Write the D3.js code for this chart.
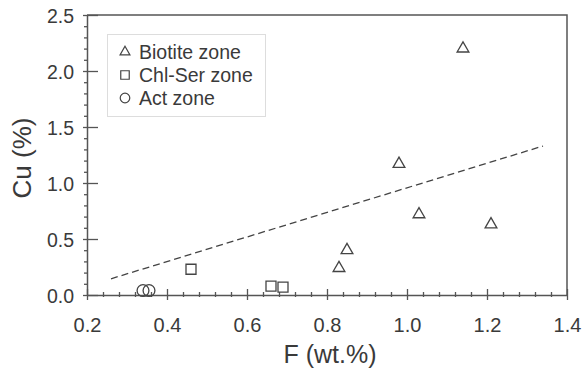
<!DOCTYPE html>
<html>
<head>
<meta charset="utf-8">
<script src="https://cdn.jsdelivr.net/npm/d3@7"></script>
<style>
  body { margin: 0; background: #fff; }
  text { font-family: "Liberation Sans", Arial, sans-serif; }
</style>
</head>
<body>
<svg id="chart"></svg>
<script>
// data
const biotiteF = [1.14, 0.98, 1.03, 1.21, 0.85, 0.83];
const biotiteCu = [2.20, 1.17, 0.72, 0.63, 0.40, 0.24];
const chlSerF = [0.46, 0.66, 0.69];
const chlSerCu = [0.23, 0.08, 0.07];
const actF = [0.34, 0.355];
const actCu = [0.04, 0.04];
const trendF = [0.26, 1.34];
const trendCu = [0.145, 1.33];

const xTicks = [0.2, 0.4, 0.6, 0.8, 1.0, 1.2, 1.4];
const yTicks = [0, 0.5, 1.0, 1.5, 2.0, 2.5];
const legendNames = ['Biotite zone', 'Chl-Ser zone', 'Act zone'];

const width = 585, height = 369;
const margin = { top: 15, right: 18, bottom: 74, left: 87 };

const axisColor = '#555';
const markColor = '#444';
const textColor = '#3a3a3a';

const svg = d3.select('#chart')
  .attr('width', width)
  .attr('height', height);

const x = d3.scaleLinear().domain([0.2, 1.4]).range([margin.left, width - margin.right]);
const y = d3.scaleLinear().domain([0, 2.5]).range([height - margin.bottom, margin.top]);

//frame top and right
svg.append('path')
  .attr('d', `M${x(0.2)},${y(2.5)}H${x(1.4)}V${y(0)}`)
  .attr('fill', 'none')
  .attr('stroke', axisColor)
  .attr('stroke-width', 1.5);

//x minor ticks
const xMinor = d3.range(0.2, 1.4001, 0.04).filter(v => Math.abs(v * 5 - Math.round(v * 5)) > 1e-6);
svg.append('g')
  .attr('transform', `translate(0,${y(0)})`)
  .call(d3.axisBottom(x).tickValues(xMinor).tickFormat('').tickSizeOuter(0))
  .call(g => g.select('.domain').remove())
  .call(g => g.selectAll('.tick line').attr('y1', -3).attr('y2', 2).attr('stroke', axisColor).attr('stroke-width', 1.3));

//x axis
svg.append('g')
  .attr('transform', `translate(0,${y(0)})`)
  .call(d3.axisBottom(x).tickValues(xTicks).tickFormat(d3.format('.1f')).tickSizeOuter(0))
  .call(g => g.select('.domain').attr('stroke', axisColor).attr('stroke-width', 1.5))
  .call(g => g.selectAll('.tick line').attr('y1', -6).attr('y2', 5).attr('stroke', axisColor).attr('stroke-width', 1.3))
  .call(g => g.selectAll('.tick text')
    .attr('y', 37)
    .attr('dy', null)
    .attr('fill', textColor)
    .style('font-size', '20px'));

//y minor ticks
const yMinor = d3.range(0, 2.5001, 0.1).filter(v => Math.abs(v * 2 - Math.round(v * 2)) > 1e-6);
svg.append('g')
  .attr('transform', `translate(${x(0.2)},0)`)
  .call(d3.axisLeft(y).tickValues(yMinor).tickFormat('').tickSizeOuter(0))
  .call(g => g.select('.domain').remove())
  .call(g => g.selectAll('.tick line').attr('x2', -3).attr('stroke', axisColor).attr('stroke-width', 1.3));

//y axis
svg.append('g')
  .attr('transform', `translate(${x(0.2)},0)`)
  .call(d3.axisLeft(y).tickValues(yTicks).tickFormat(d3.format('.1f')).tickSizeOuter(0))
  .call(g => g.select('.domain').attr('stroke', axisColor).attr('stroke-width', 1.5))
  .call(g => g.selectAll('.tick line').attr('x1', 11).attr('x2', -4).attr('stroke', axisColor).attr('stroke-width', 1.3))
  .call(g => g.selectAll('.tick text')
    .attr('x', -13)
    .attr('dy', '0.36em')
    .attr('fill', textColor)
    .style('font-size', '19.5px'));

//axis titles
svg.append('text')
  .attr('x', 330)
  .attr('y', 363)
  .attr('text-anchor', 'middle')
  .attr('fill', textColor)
  .style('font-size', '25px')
  .text('F (wt.%)');

svg.append('text')
  .attr('transform', `translate(31,158) rotate(-90)`)
  .attr('text-anchor', 'middle')
  .attr('fill', textColor)
  .style('font-size', '26px')
  .text('Cu (%)');

//trend line
const line = d3.line().x(d => x(d[0])).y(d => y(d[1]));
svg.append('path')
  .datum(d3.zip(trendF, trendCu))
  .attr('d', line)
  .attr('fill', 'none')
  .attr('stroke', '#444')
  .attr('stroke-width', 1.3)
  .attr('stroke-dasharray', '7,4');

//points
const symbols = [d3.symbolTriangle, d3.symbolSquare, d3.symbolCircle];
const sizes = [60, 100, 110];
const groups = [
  d3.zip(biotiteF, biotiteCu),
  d3.zip(chlSerF, chlSerCu),
  d3.zip(actF, actCu)
];

groups.forEach((pts, i) => {
  svg.append('g').selectAll('path')
    .data(pts)
    .enter().append('path')
      .attr('transform', d => `translate(${x(d[0])},${y(d[1])})`)
      .attr('d', d3.symbol(symbols[i], sizes[i]))
      .attr('fill', 'none')
      .attr('stroke', markColor)
      .attr('stroke-width', 1.3);
});

//legend
const legend = svg.append('g');
legend.append('rect')
  .attr('x', 107.5)
  .attr('y', 34.5)
  .attr('width', 158)
  .attr('height', 82)
  .attr('fill', 'none')
  .attr('stroke', '#ddd')
  .attr('stroke-width', 1);

const legendSizes = [42, 72, 72];
const item = legend.selectAll('.legend')
  .data(legendNames)
  .enter().append('g')
    .attr('class', 'legend')
    .attr('transform', (d, i) => `translate(125,${52 + i * 23})`);

item.append('path')
  .attr('d', (d, i) => d3.symbol(symbols[i], legendSizes[i])())
  .attr('fill', 'none')
  .attr('stroke', markColor)
  .attr('stroke-width', 1.2);

item.append('text')
  .attr('x', 14)
  .attr('y', 6.5)
  .attr('fill', textColor)
  .style('font-size', '19.5px')
  .text(d => d);
</script>
</body>
</html>
